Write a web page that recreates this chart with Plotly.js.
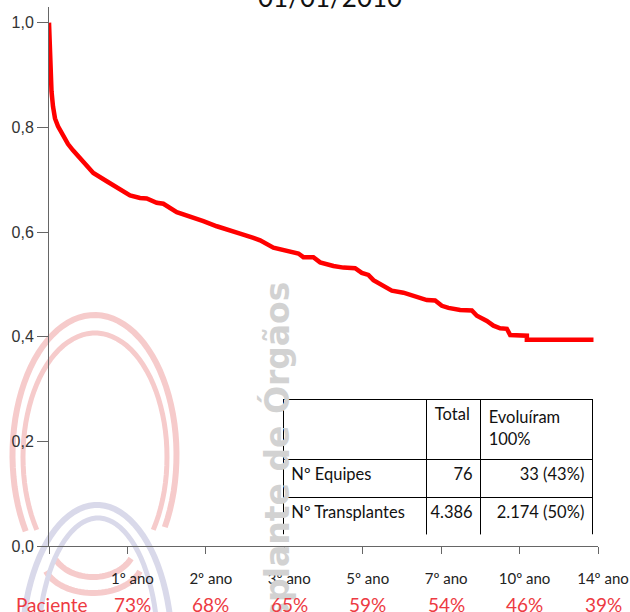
<!DOCTYPE html>
<html>
<head>
<meta charset="utf-8">
<script src="https://cdn.plot.ly/plotly-3.0.1.min.js"></script>
<style>
html,body{margin:0;padding:0;background:#fff;}
#chart{width:630px;height:612px;}
</style>
</head>
<body>
<div id="chart"></div>
<script>
// ---- Data ----
// time in years since transplant, survival fraction (Kaplan-Meier curve)
const years = [0, 0.026, 0.064, 0.102, 0.153, 0.230, 0.332, 0.485, 0.612, 0.875, 1.130, 1.472, 1.895, 2.066, 2.321, 2.492, 2.747, 2.916, 3.258, 3.597, 3.936, 4.278, 4.617, 4.872, 5.212, 5.383, 5.722, 6.064, 6.360, 6.487, 6.742, 6.913, 7.253, 7.508, 7.806, 7.977, 8.145, 8.273, 8.487, 8.656, 8.742, 9.038, 9.209, 9.464, 9.635, 9.847, 10.018, 10.186, 10.485, 10.783, 10.911, 11.166, 11.334, 11.505, 11.676, 11.760, 12.186, 12.186, 13.885];
const survival = [1.0, 0.926, 0.869, 0.840, 0.817, 0.802, 0.787, 0.768, 0.756, 0.735, 0.713, 0.697, 0.678, 0.670, 0.665, 0.664, 0.656, 0.654, 0.638, 0.630, 0.621, 0.611, 0.602, 0.597, 0.589, 0.584, 0.570, 0.564, 0.559, 0.552, 0.552, 0.542, 0.535, 0.532, 0.531, 0.522, 0.518, 0.508, 0.499, 0.494, 0.488, 0.484, 0.480, 0.474, 0.470, 0.469, 0.459, 0.455, 0.451, 0.450, 0.440, 0.430, 0.421, 0.416, 0.415, 0.403, 0.402, 0.394, 0.394];

const tickPos = [0, 2, 4, 6, 8, 10, 12, 14];
const tickLabels = ['', '1º ano', '2º ano', '3º ano', '5º ano', '7º ano', '10º ano', '14º ano'];
const pacienteLabel = 'Paciente';
const pacientePct = ['73%', '68%', '65%', '59%', '54%', '46%', '39%'];
const pacientePos = [2, 4, 6, 8, 10, 12, 14];

const headerTexts = ['', 'Total', 'Evoluíram<br>100%'];
const rowLabels = ['Nº Equipes', 'Nº Transplantes'];
const totals = ['76', '4.386'];
const evoluiram = ['33 (43%)', '2.174 (50%)'];

const titleText = '01/01/2010';
const watermarkText = 'Transplante de Órgãos';

// ---- Geometry helpers (decorative logo only) ----
const L = 49, R = 32, T = 7, B = 66, W = 630, H = 612;
const PW = W - L - R, PH = H - T - B;
function px2paper(x, y) { return [(x - L) / PW, (H - B - y) / PH]; }
function arcPath(cx, cy, rx, ry, a0, a1) {
  let d = '';
  for (let a = a0; a <= a1 + 0.001; a += 4) {
    const t = a * Math.PI / 180;
    const p = px2paper(cx + rx * Math.cos(t), cy + ry * Math.sin(t));
    d += (d ? ' L ' : 'M ') + p[0].toFixed(4) + ' ' + p[1].toFixed(4);
  }
  return d;
}
const pink = '#f6cbcb', lav = '#d9d9ea';
const logo = [
  [94.5, 455, 82, 140, 147, 393, pink, 6],
  [95, 457, 72, 124, 144, 396, pink, 5],
  [93, 545, 42, 32, 25, 155, pink, 6],
  [93, 560, 50, 33, 20, 160, pink, 6],
  [97, 650, 75, 145, 160, 380, lav, 6],
  [98, 650, 60, 132, 160, 380, lav, 5]
].map(a => ({
  type: 'path', xref: 'paper', yref: 'paper', layer: 'below',
  path: arcPath(a[0], a[1], a[2], a[3], a[4], a[5]),
  line: { color: a[6], width: a[7] }
}));

const red = '#ed3a42';

const traces = [
  {
    type: 'scatter', mode: 'lines', x: years, y: survival,
    line: { color: '#ff0000', width: 4.5 },
    hoverinfo: 'skip', showlegend: false
  },
  {
    type: 'table',
    domain: { x: [(283.3 - L) / PW, (593.3 - L) / PW], y: [(H - B - 535) / PH, (H - B - 399.3) / PH] },
    columnwidth: [144, 54, 112],
    header: {
      values: headerTexts,
      align: ['left', 'left', 'left'],
      height: 60,
      line: { color: '#000', width: 1 },
      fill: { color: '#fff' },
      font: { family: 'Lato, sans-serif', size: 16.5, color: '#111' }
    },
    cells: {
      values: [rowLabels, totals, evoluiram],
      align: ['left', 'right', 'right'],
      height: 38,
      line: { color: '#000', width: 1 },
      fill: { color: '#fff' },
      font: { family: 'Lato, sans-serif', size: 16.5, color: '#111' }
    }
  }
];

const annotations = [
  {
    text: titleText, xref: 'paper', yref: 'paper', x: (330 - L) / PW, y: (H - B - 15) / PH,
    xanchor: 'center', yanchor: 'bottom', showarrow: false,
    font: { family: 'Lato, sans-serif', size: 26, color: '#111' }
  },
  {
    text: watermarkText, xref: 'paper', yref: 'paper', x: (276 - L) / PW, y: (H - B - 280) / PH,
    xanchor: 'center', yanchor: 'top', showarrow: false, textangle: -90,
    font: { family: 'DejaVu Sans', size: 33, color: '#d2d2d2', weight: 'bold' }
  },
  {
    text: pacienteLabel, xref: 'x', yref: 'paper', x: 0, y: (H - B - 604) / PH,
    xanchor: 'center', yanchor: 'middle', showarrow: false, xshift: 2,
    font: { family: 'Lato, sans-serif', size: 19, color: red }
  }
].concat(pacientePct.map((t, i) => ({
  text: t, xref: 'x', yref: 'paper', x: pacientePos[i], y: (H - B - 604) / PH,
  xanchor: 'center', yanchor: 'middle', showarrow: false, xshift: 5,
  font: { family: 'Lato, sans-serif', size: 19, color: red }
})));

const layout = {
  width: W, height: H,
  margin: { l: L, r: R, t: T, b: B, pad: 0 },
  paper_bgcolor: '#fff', plot_bgcolor: 'rgba(0,0,0,0)',
  separators: ',.',
  showlegend: false,
  xaxis: {
    range: [0, 14], tickvals: tickPos, ticktext: tickLabels,
    ticks: 'outside', ticklen: 7, tickcolor: '#666', tickwidth: 1,
    showline: true, linecolor: '#666', linewidth: 1,
    showgrid: false, zeroline: false,
    ticklabelstandoff: 12, ticklabelshift: 5,
    tickfont: { family: 'Lato, sans-serif', size: 15, color: '#222' },
    fixedrange: true
  },
  yaxis: {
    range: [0, 1.03], tickvals: [0, 0.2, 0.4, 0.6, 0.8, 1.0], tickformat: '.1f',
    ticks: 'outside', ticklen: 11, tickcolor: '#666', tickwidth: 1,
    showline: true, linecolor: '#666', linewidth: 1,
    showgrid: false, zeroline: false,
    tickfont: { family: 'Liberation Sans, Arial, sans-serif', size: 16, color: '#333' },
    fixedrange: true
  },
  shapes: logo,
  annotations: annotations
};

Plotly.newPlot('chart', traces, layout, { displayModeBar: false, staticPlot: true });
</script>
</body>
</html>
